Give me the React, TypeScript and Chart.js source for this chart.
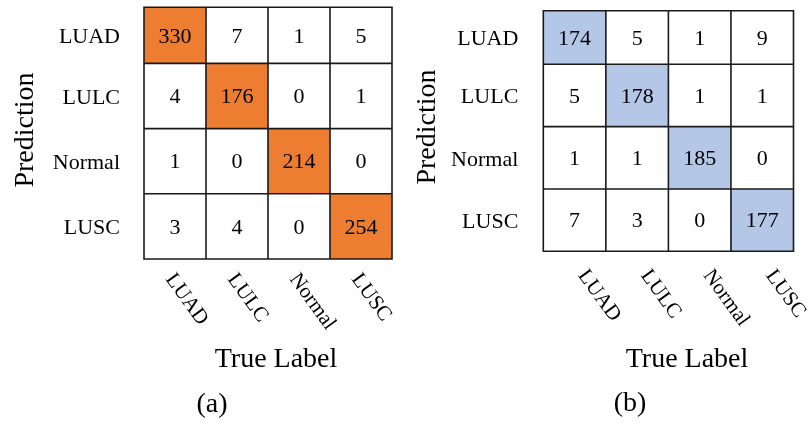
import React, { useEffect, useRef } from "react";
import { Chart, registerables } from "chart.js";

Chart.register(...registerables);

// ---- data ----
const categories = ["LUAD", "LULC", "Normal", "LUSC"];

// panel (a): rows = prediction, columns = true label
const countsA_LUAD = [330, 7, 1, 5];
const countsA_LULC = [4, 176, 0, 1];
const countsA_Normal = [1, 0, 214, 0];
const countsA_LUSC = [3, 4, 0, 254];

// panel (b)
const countsB_LUAD = [174, 5, 1, 9];
const countsB_LULC = [5, 178, 1, 1];
const countsB_Normal = [1, 1, 185, 0];
const countsB_LUSC = [7, 3, 0, 177];

const matrixA = [countsA_LUAD, countsA_LULC, countsA_Normal, countsA_LUSC];
const matrixB = [countsB_LUAD, countsB_LULC, countsB_Normal, countsB_LUSC];

const yAxisTitle = "Prediction";
const xAxisTitle = "True Label";

const FONT = "'Liberation Serif', 'Times New Roman', serif";

type Layout = {
  padding: { left: number; top: number; right: number; bottom: number };
  yTitleX: number;
  yTitleY: number;
  yTickGap: number;
  xLabelDx: number;
  xLabelDy: number;
  xLabelAngle: number;
  xTitleX: number;
  xTitleY: number;
  panelX: number;
  panelY: number;
};

function ConfusionChart(props: {
  matrix: number[][];
  diagColor: string;
  panel: string;
  layout: Layout;
}) {
  const ref = useRef<HTMLCanvasElement | null>(null);
  useEffect(() => {
    const { matrix, diagColor, panel, layout } = props;
    const canvas = ref.current;
    if (!canvas) return;

    const datasets = matrix.map((row, r) => ({
      label: categories[r],
      data: row.map((_v, j) => ({ x: categories[j], y: [r, r + 1] })),
      backgroundColor: row.map((_v, j) => (j === r ? diagColor : "#ffffff")),
      borderWidth: 0,
      barPercentage: 1,
      categoryPercentage: 1,
      grouped: false,
      clip: 0,
    }));

    const overlay = {
      id: "cmOverlay",
      afterDatasetsDraw(chart: any) {
        const ctx = chart.ctx;
        const xs = chart.scales.x;
        const ys = chart.scales.y;
        const area = chart.chartArea;
        const rowTop = (r: number) => ys.getPixelForValue(Math.max(r, ys.min));
        const rowBot = (r: number) => ys.getPixelForValue(r + 1);
        ctx.save();
        // cell values
        ctx.fillStyle = "#000";
        ctx.font = `22px ${FONT}`;
        ctx.textAlign = "center";
        ctx.textBaseline = "middle";
        matrix.forEach((row, r) => {
          const cy = (rowTop(r) + rowBot(r)) / 2;
          row.forEach((v, j) => {
            ctx.fillText(String(v), xs.getPixelForValue(j), cy + 1.5);
          });
        });
        // grid lines
        ctx.strokeStyle = "#1a1a1a";
        ctx.lineWidth = 1.6;
        ctx.beginPath();
        for (let j = 0; j <= categories.length; j++) {
          const px = xs.getPixelForValue(j - 0.5);
          ctx.moveTo(px, area.top);
          ctx.lineTo(px, area.bottom);
        }
        for (let r = 0; r <= categories.length; r++) {
          const py = ys.getPixelForValue(Math.max(r, ys.min));
          ctx.moveTo(area.left - 0.8, py);
          ctx.lineTo(area.right + 0.8, py);
        }
        ctx.stroke();
        // y tick labels
        ctx.textAlign = "right";
        ctx.textBaseline = "middle";
        ctx.font = `22px ${FONT}`;
        categories.forEach((c, r) => {
          const cy = (rowTop(r) + rowBot(r)) / 2;
          ctx.fillText(c, area.left - layout.yTickGap, cy + 2);
        });
        // x tick labels rotated
        ctx.font = `21px ${FONT}`;
        ctx.textAlign = "left";
        ctx.textBaseline = "alphabetic";
        categories.forEach((c, j) => {
          const px = xs.getPixelForValue(j) + layout.xLabelDx;
          const py = area.bottom + layout.xLabelDy;
          ctx.save();
          ctx.translate(px, py);
          ctx.rotate((layout.xLabelAngle * Math.PI) / 180);
          ctx.fillText(c, 0, 0);
          ctx.restore();
        });
        // y axis title
        ctx.font = `28px ${FONT}`;
        ctx.textAlign = "center";
        ctx.textBaseline = "alphabetic";
        ctx.save();
        ctx.translate(layout.yTitleX, layout.yTitleY);
        ctx.rotate(-Math.PI / 2);
        ctx.fillText(yAxisTitle, 0, 0);
        ctx.restore();
        // x axis title
        ctx.fillText(xAxisTitle, layout.xTitleX, layout.xTitleY);
        // panel label
        ctx.fillText(panel, layout.panelX, layout.panelY);
        ctx.restore();
      },
    };

    const chart = new Chart(canvas, {
      type: "bar",
      data: { labels: categories, datasets: datasets as any },
      options: {
        animation: false,
        responsive: false,
        maintainAspectRatio: false,
        devicePixelRatio: 1,
        layout: { padding: layout.padding },
        plugins: { legend: { display: false }, tooltip: { enabled: false } },
        scales: {
          x: { type: "category", display: false, offset: true },
          y: { type: "linear", display: false, reverse: true, min: 0.14, max: 4 },
        },
      },
      plugins: [overlay],
    });
    return () => chart.destroy();
  }, []);
  return <canvas ref={ref} width={405} height={424} style={{ display: "block" }} />;
}

const layoutA: Layout = {
  padding: { left: 144, top: 7.3, right: 13, bottom: 165 },
  yTitleX: 33,
  yTitleY: 130,
  yTickGap: 24,
  xLabelDx: -10,
  xLabelDy: 20,
  xLabelAngle: 54,
  xTitleX: 276,
  xTitleY: 367,
  panelX: 212,
  panelY: 412,
};

const layoutB: Layout = {
  padding: { left: 138.3, top: 10.7, right: 16.5, bottom: 172.7 },
  yTitleX: 30,
  yTitleY: 127,
  yTickGap: 25,
  xLabelDx: 3,
  xLabelDy: 24,
  xLabelAngle: 54,
  xTitleX: 282,
  xTitleY: 367,
  panelX: 225,
  panelY: 411,
};

export default function App() {
  return (
    <div
      style={{
        position: "fixed",
        left: 0,
        top: 0,
        width: 810,
        height: 424,
        background: "#ffffff",
        display: "flex",
      }}
    >
      <ConfusionChart matrix={matrixA} diagColor="#ED7D31" panel="(a)" layout={layoutA} />
      <ConfusionChart matrix={matrixB} diagColor="#B4C7E7" panel="(b)" layout={layoutB} />
    </div>
  );
}
